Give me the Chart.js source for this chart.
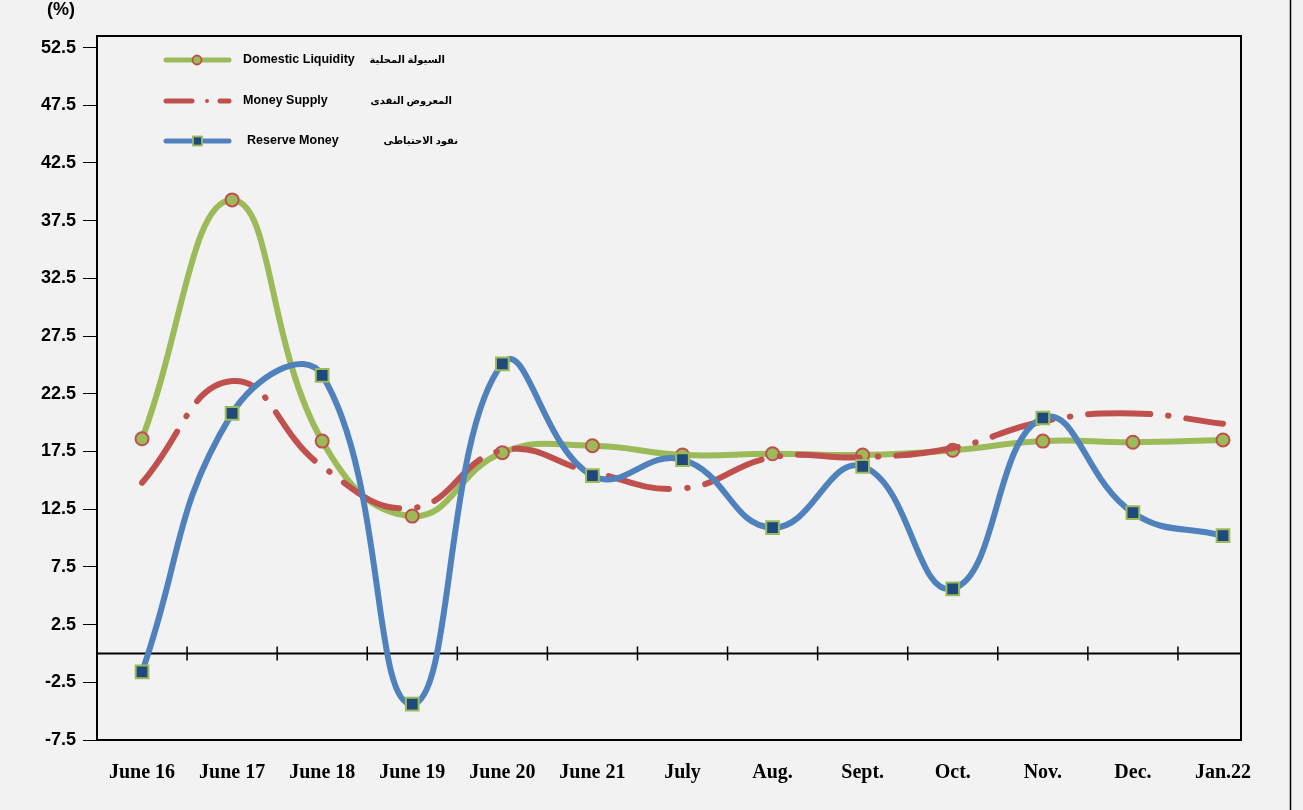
<!DOCTYPE html>
<html>
<head>
<meta charset="utf-8">
<script src="https://cdn.jsdelivr.net/npm/chart.js@4.4.1/dist/chart.umd.min.js"></script>
<style>
  html, body { margin: 0; padding: 0; background: #F2F2F2; }
  #wrap { width: 1303px; height: 810px; position: relative; }
</style>
</head>
<body>
<div id="wrap"><canvas id="growthChart" width="1303" height="810"></canvas></div>
<script>
// Categories and values
const categories = ['June 16', 'June 17', 'June 18', 'June 19', 'June 20', 'June 21', 'July', 'Aug.', 'Sept.', 'Oct.', 'Nov.', 'Dec.', 'Jan.22'];
const domesticLiquidity = [18.6, 39.3, 18.4, 11.9, 17.4, 18.0, 17.2, 17.3, 17.2, 17.6, 18.4, 18.3, 18.5];
const moneySupply = [14.8, 23.6, 16.2, 12.6, 17.6, 15.7, 14.3, 17.0, 17.0, 17.8, 20.1, 20.8, 19.9];
const reserveMoney = [-1.6, 20.8, 24.1, -4.4, 25.1, 15.4, 16.8, 10.9, 16.2, 5.6, 20.4, 12.2, 10.2];
const yTicks = [-7.5, -2.5, 2.5, 7.5, 12.5, 17.5, 22.5, 27.5, 32.5, 37.5, 42.5, 47.5, 52.5];

const GREEN = '#9BBB59', RED = '#C0504D', BLUE = '#4F81BD', NAVY = '#1F497D';

function toPoints(arr) {
  return arr.map((v, i) => ({ x: i, y: v }));
}

// Frame, zero line with its tick marks, unit label and the two-language legend
const decorations = {
  id: 'decorations',
  beforeDraw(chart) {
    const ctx = chart.ctx;
    ctx.save();
    ctx.fillStyle = '#F2F2F2';
    ctx.fillRect(0, 0, chart.width, chart.height);
    ctx.strokeStyle = '#000';
    ctx.lineWidth = 1.5;
    ctx.beginPath();
    ctx.moveTo(1290.5, 0);
    ctx.lineTo(1290.5, chart.height);
    ctx.stroke();
    ctx.restore();
  },
  beforeDatasetsDraw(chart) {
    const { ctx, chartArea, scales } = chart;
    const y0 = scales.y.getPixelForValue(0);
    ctx.save();
    ctx.strokeStyle = '#000';
    ctx.lineWidth = 2;
    ctx.beginPath();
    ctx.moveTo(chartArea.left, y0);
    ctx.lineTo(chartArea.right, y0);
    ctx.stroke();
    ctx.lineWidth = 1.5;
    for (let i = 0; i < categories.length - 1; i++) {
      const x = scales.x.getPixelForValue(i + 0.5);
      ctx.beginPath();
      ctx.moveTo(x, y0 - 7);
      ctx.lineTo(x, y0 + 7);
      ctx.stroke();
    }
    ctx.restore();
  },
  afterDraw(chart) {
    const { ctx, chartArea } = chart;
    ctx.save();
    ctx.strokeStyle = '#000';
    ctx.lineWidth = 2;
    ctx.strokeRect(chartArea.left, chartArea.top, chartArea.right - chartArea.left, chartArea.bottom - chartArea.top);

    ctx.fillStyle = '#000';
    ctx.font = 'bold 18px "Liberation Sans", Arial, sans-serif';
    ctx.textAlign = 'center';
    ctx.textBaseline = 'middle';
    ctx.fillText('(%)', 61, 10);

    // legend
    const rows = [
      { y: 60, en: 'Domestic Liquidity', ar: 'السيولة المحلية', enX: 243, arX: 445, kind: 'liq' },
      { y: 101, en: 'Money Supply', ar: 'المعروض النقدى', enX: 243, arX: 452, kind: 'ms' },
      { y: 141, en: 'Reserve Money', ar: 'نقود الاحتياطى', enX: 247, arX: 458, kind: 'rm' }
    ];
    rows.forEach(r => {
      ctx.lineCap = 'round';
      ctx.lineWidth = 5;
      if (r.kind === 'liq') {
        ctx.strokeStyle = GREEN;
        ctx.beginPath(); ctx.moveTo(166, r.y); ctx.lineTo(229, r.y); ctx.stroke();
        ctx.fillStyle = GREEN; ctx.strokeStyle = RED; ctx.lineWidth = 1.8;
        ctx.beginPath(); ctx.arc(197, r.y, 4.5, 0, Math.PI * 2); ctx.fill(); ctx.stroke();
      } else if (r.kind === 'ms') {
        ctx.strokeStyle = RED;
        ctx.beginPath(); ctx.moveTo(166, r.y); ctx.lineTo(192, r.y); ctx.stroke();
        ctx.beginPath(); ctx.moveTo(220, r.y); ctx.lineTo(229, r.y); ctx.stroke();
        ctx.fillStyle = RED;
        ctx.beginPath(); ctx.arc(207, r.y, 2, 0, Math.PI * 2); ctx.fill();
      } else {
        ctx.strokeStyle = BLUE;
        ctx.beginPath(); ctx.moveTo(166, r.y); ctx.lineTo(229, r.y); ctx.stroke();
        ctx.fillStyle = NAVY; ctx.strokeStyle = GREEN; ctx.lineWidth = 1.8;
        ctx.fillRect(193, r.y - 4.5, 9, 9); ctx.strokeRect(193, r.y - 4.5, 9, 9);
      }
      ctx.fillStyle = '#000';
      ctx.textAlign = 'left';
      ctx.font = 'bold 12.5px "Liberation Sans", Arial, sans-serif';
      ctx.fillText(r.en, r.enX, r.y);
      ctx.textAlign = 'right';
      ctx.font = 'bold 10px "Noto Sans", "DejaVu Sans", sans-serif';
      ctx.fillText(r.ar, r.arX, r.y);
    });
    ctx.restore();
  }
};

const ctx = document.getElementById('growthChart').getContext('2d');
const growthChart = new Chart(ctx, {
  type: 'line',
  data: {
    datasets: [
      {
        label: 'Domestic Liquidity',
        data: toPoints(domesticLiquidity),
        borderColor: GREEN,
        borderWidth: 6,
        tension: 0.45,
        pointStyle: 'circle',
        pointRadius: 6.5,
        pointBackgroundColor: GREEN,
        pointBorderColor: RED,
        pointBorderWidth: 2,
        order: 3
      },
      {
        label: 'Money Supply',
        data: toPoints(moneySupply),
        borderColor: RED,
        borderWidth: 6,
        borderDash: [62, 18, 0.5, 18],
        borderCapStyle: 'round',
        tension: 0.45,
        pointRadius: 0,
        order: 2
      },
      {
        label: 'Reserve Money',
        data: toPoints(reserveMoney),
        borderColor: BLUE,
        borderWidth: 6,
        tension: 0.45,
        pointStyle: 'rect',
        pointRadius: 9,
        pointBackgroundColor: NAVY,
        pointBorderColor: GREEN,
        pointBorderWidth: 2,
        order: 1
      }
    ]
  },
  options: {
    responsive: false,
    animation: false,
    events: [],
    layout: { padding: { top: 36, right: 62, left: 0, bottom: 0 } },
    plugins: {
      legend: { display: false },
      tooltip: { enabled: false }
    },
    scales: {
      x: {
        type: 'linear',
        min: -0.5,
        max: 12.2,
        afterBuildTicks: scale => { scale.ticks = categories.map((c, i) => ({ value: i })); },
        afterFit: scale => { scale.height = 70; },
        grid: { display: false },
        border: { display: false },
        ticks: {
          color: '#000',
          padding: 13,
          autoSkip: false,
          maxRotation: 0,
          font: { family: '"Liberation Serif", "Times New Roman", serif', size: 20, weight: 'bold' },
          callback: v => categories[v]
        }
      },
      y: {
        min: -7.5,
        max: 53.5,
        afterBuildTicks: scale => { scale.ticks = yTicks.map(v => ({ value: v })); },
        afterFit: scale => { scale.width = 97; },
        grid: { drawOnChartArea: false, drawTicks: true, tickLength: 14, color: '#000', lineWidth: 1 },
        border: { display: false },
        ticks: {
          color: '#000',
          padding: 7,
          font: { family: '"Liberation Sans", Arial, sans-serif', size: 18, weight: 'bold' },
          callback: v => v.toFixed(1)
        }
      }
    }
  },
  plugins: [decorations]
});
</script>
</body>
</html>
